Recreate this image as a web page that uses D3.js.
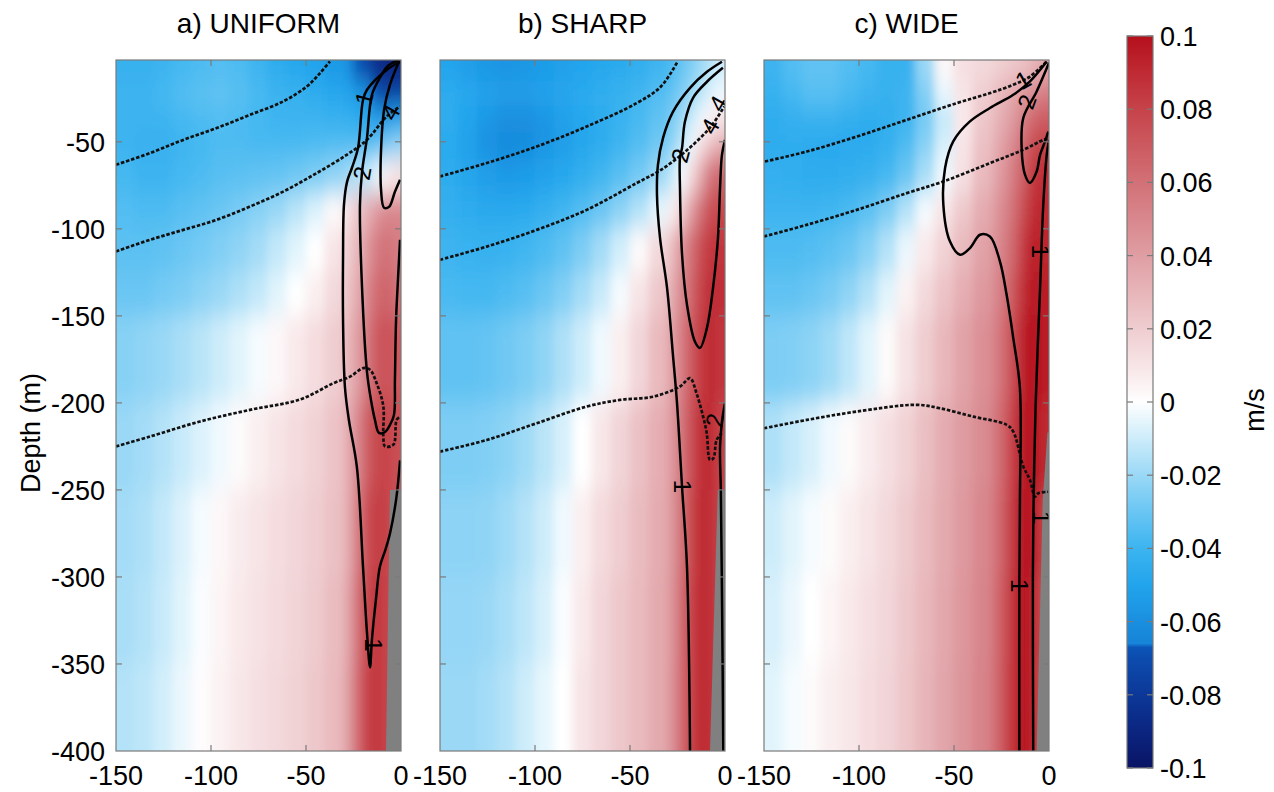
<!DOCTYPE html>
<html><head><meta charset="utf-8">
<script src="https://cdn.jsdelivr.net/npm/d3@7"></script>
<style>
body{margin:0;background:#fff;}
svg{display:block;font-family:"Liberation Sans",Arial,Helvetica,sans-serif;}
</style></head><body>
<svg id="chart" width="1274" height="792"></svg>
<script>
// ---------------- DATA ----------------
const panelTitles = ["a) UNIFORM", "b) SHARP", "c) WIDE"];
const xTicks = [-150, -100, -50, 0];
const xTickLabels = ["-150", "-100", "-50", "0"];
const yTicks = [-50, -100, -150, -200, -250, -300, -350, -400];
const yTickLabels = ["-50", "-100", "-150", "-200", "-250", "-300", "-350", "-400"];
const cbarTicks = [0.1, 0.08, 0.06, 0.04, 0.02, 0, -0.02, -0.04, -0.06, -0.08, -0.1];
const cbarTickLabels = ["0.1", "0.08", "0.06", "0.04", "0.02", "0", "-0.02", "-0.04", "-0.06", "-0.08", "-0.1"];

// grid cell edges (distance offshore, depth)
const xEdges = [-150,-140,-130,-120,-110,-100,-90,-80,-70,-60,-50,-40,-30,-25,-20,-15,-10,-5,0];
const depthEdges = [-3,-15,-30,-45,-60,-80,-100,-125,-150,-200,-250,-300,-350,-400];

// alongshore velocity (m/s), rows shallow->deep, columns offshore->coast
const velocityA = [
[-.042,-.042,-.04,-.038,-.036,-.035,-.036,-.04,-.045,-.048,-.05,-.055,-.06,-.068,-.075,-.085,-.09,-.09],
[-.04,-.04,-.038,-.035,-.033,-.032,-.034,-.037,-.04,-.042,-.045,-.048,-.05,-.055,-.06,-.07,-.075,-.075],
[-.04,-.04,-.04,-.038,-.036,-.035,-.036,-.038,-.04,-.04,-.04,-.042,-.043,-.045,-.048,-.052,-.055,-.05],
[-.04,-.042,-.042,-.04,-.038,-.036,-.036,-.037,-.037,-.037,-.036,-.035,-.035,-.035,-.035,-.033,-.028,-.022],
[-.038,-.04,-.04,-.038,-.036,-.034,-.033,-.032,-.031,-.029,-.026,-.022,-.018,-.015,-.012,-.005,.005,.01],
[-.035,-.036,-.036,-.034,-.032,-.03,-.027,-.024,-.02,-.014,-.007,.002,.012,.022,.032,.042,.05,.05],
[-.033,-.033,-.032,-.03,-.028,-.025,-.022,-.018,-.012,-.006,.0,.01,.02,.03,.042,.055,.06,.055],
[-.03,-.03,-.028,-.026,-.023,-.02,-.016,-.012,-.006,.0,.006,.015,.025,.035,.05,.062,.066,.06],
[-.024,-.022,-.02,-.017,-.014,-.01,-.006,-.002,.003,.008,.013,.02,.03,.04,.056,.07,.074,.07],
[-.02,-.018,-.015,-.011,-.007,-.003,.002,.006,.01,.014,.018,.024,.035,.05,.068,.078,.08,.075],
[-.018,-.016,-.012,-.007,-.002,.003,.007,.01,.013,.016,.02,.025,.035,.055,.075,.082,.08,.075],
[-.017,-.015,-.011,-.006,-.001,.004,.008,.011,.014,.017,.021,.027,.038,.06,.078,.085,.08,.075],
[-.015,-.013,-.009,-.004,.001,.005,.009,.012,.015,.018,.022,.028,.04,.062,.08,.085,.08,.075]
];
const velocityB = [
[-.05,-.053,-.056,-.057,-.056,-.054,-.052,-.05,-.048,-.046,-.044,-.04,-.036,-.031,-.026,-.02,-.015,-.01],
[-.045,-.048,-.051,-.053,-.053,-.051,-.049,-.046,-.044,-.042,-.039,-.035,-.031,-.026,-.02,-.014,-.007,-.003],
[-.045,-.05,-.056,-.06,-.06,-.057,-.052,-.048,-.045,-.041,-.037,-.032,-.026,-.019,-.011,-.003,.004,.01],
[-.046,-.052,-.058,-.062,-.061,-.057,-.053,-.049,-.045,-.04,-.035,-.029,-.022,-.013,-.003,.012,.025,.035],
[-.045,-.049,-.053,-.055,-.054,-.051,-.048,-.044,-.039,-.034,-.028,-.02,-.011,-.002,.015,.035,.058,.065],
[-.043,-.045,-.047,-.047,-.046,-.043,-.039,-.035,-.03,-.023,-.015,-.005,.006,.02,.04,.06,.075,.078],
[-.04,-.041,-.042,-.041,-.039,-.036,-.032,-.026,-.018,-.009,.002,.015,.028,.045,.06,.075,.085,.085],
[-.037,-.038,-.038,-.036,-.034,-.03,-.025,-.018,-.011,-.002,.01,.022,.035,.05,.065,.08,.088,.088],
[-.032,-.032,-.031,-.029,-.026,-.022,-.016,-.01,-.003,.006,.016,.028,.04,.055,.07,.083,.09,.085],
[-.026,-.026,-.025,-.023,-.019,-.014,-.008,.0,.009,.017,.025,.033,.043,.058,.075,.088,.09,.08],
[-.023,-.023,-.022,-.019,-.015,-.01,-.003,.006,.014,.02,.027,.034,.044,.06,.078,.09,.088,.08],
[-.021,-.021,-.02,-.017,-.013,-.008,-.001,.008,.016,.022,.028,.035,.045,.062,.08,.09,.088,.08],
[-.02,-.02,-.018,-.015,-.01,-.005,.0,.01,.016,.022,.028,.035,.046,.063,.08,.09,.088,.08]
];
const velocityC = [
[-.04,-.035,-.032,-.032,-.035,-.038,-.042,-.042,-.02,.003,.012,.015,.018,.02,.022,.025,.03,.035],
[-.042,-.038,-.034,-.034,-.037,-.04,-.042,-.04,-.025,-.005,.01,.02,.027,.032,.038,.045,.05,.055],
[-.045,-.043,-.042,-.042,-.044,-.045,-.044,-.04,-.028,-.012,.008,.022,.03,.036,.044,.055,.065,.07],
[-.045,-.045,-.046,-.047,-.047,-.046,-.043,-.036,-.024,-.008,.01,.025,.034,.042,.052,.065,.078,.08],
[-.043,-.044,-.045,-.045,-.044,-.042,-.038,-.03,-.017,-.003,.012,.028,.038,.046,.058,.07,.085,.088],
[-.04,-.04,-.04,-.039,-.037,-.033,-.026,-.015,-.002,.01,.022,.034,.043,.052,.063,.078,.09,.09],
[-.036,-.036,-.035,-.033,-.03,-.024,-.015,-.004,.008,.018,.028,.038,.047,.056,.068,.085,.095,.092],
[-.032,-.032,-.03,-.027,-.022,-.015,-.006,.005,.015,.024,.033,.042,.05,.06,.075,.09,.098,.095],
[-.026,-.025,-.023,-.019,-.013,-.006,.002,.011,.02,.029,.038,.046,.054,.065,.08,.095,.1,.095],
[-.016,-.012,-.008,-.003,.002,.007,.012,.018,.026,.034,.041,.048,.058,.07,.085,.098,.1,.09],
[-.01,-.006,-.002,.002,.006,.01,.015,.021,.028,.035,.042,.05,.06,.072,.088,.1,.095,.08],
[-.008,-.004,.0,.004,.008,.012,.016,.022,.029,.036,.043,.051,.062,.075,.09,.1,.09,.075],
[-.006,-.002,.002,.006,.009,.013,.017,.023,.03,.037,.044,.052,.063,.076,.09,.1,.09,.07]
];

// isopycnals (dotted): [x, depth]
const isopycnalsA = [
[[-150,-63.2],[-132.1,-56.5],[-114.6,-48.9],[-97,-42.1],[-79.5,-34.5],[-62,-26.8],[-49.6,-18.2],[-42.6,-10.5],[-37.4,-3.8]],
[[-150,-113],[-132.1,-106.3],[-114.6,-100.6],[-97,-94.8],[-79.5,-87.2],[-62,-78.6],[-44.4,-68],[-28.6,-57.5],[-18,-48.9],[-7.5,-35.4],[-0.5,-29.7]],
[[-150,-225],[-132,-219.3],[-105.8,-210.7],[-79.5,-204],[-53,-198],[-35.6,-188.7],[-26.8,-184.9],[-19.8,-180],[-16.3,-181],[-12.8,-188.7],[-9.3,-202],[-9.3,-219.3],[-8.4,-225],[-4,-224],[-2.3,-209.8],[-0.5,-208]]
];
const isopycnalsB = [
[[-150,-69.9],[-125.4,-62.2],[-99.1,-52.7],[-72.8,-41.2],[-46.5,-27.8],[-33.7,-18.2],[-24.9,-3.8]],
[[-150,-117.8],[-125.4,-110.2],[-99.1,-100.6],[-72.8,-89.1],[-46.5,-73.7],[-33.7,-66.1],[-19.8,-54.6],[-7.4,-41.2],[-0.4,-29.7]],
[[-150,-228],[-125.4,-221.3],[-99.1,-211.7],[-72.8,-202.1],[-55.3,-198.3],[-37.7,-196.4],[-23.7,-190.6],[-18.4,-185.8],[-15,-194.4],[-11.5,-207.9],[-9.6,-217.4],[-7.9,-232.8],[-6.1,-231.8],[-4.4,-221.3],[-1.7,-217.4]]
];
const isopycnalsC = [
[[-149.5,-61.3],[-127.5,-55.6],[-101.2,-47],[-74.9,-37.4],[-48.6,-27.8],[-31,-22],[-18.8,-17.2],[-10,-12.5],[-1.2,-3.8]],
[[-150,-104.4],[-127.5,-97.7],[-101.2,-89.1],[-74.9,-79.5],[-55.6,-72.8],[-31,-62.2],[-13.5,-54.6],[-3,-48.9],[0,-47.9]],
[[-150,-214.6],[-127.5,-209.8],[-101.2,-205],[-69.6,-201.1],[-57.4,-203.1],[-39.8,-207.9],[-22.3,-212.6],[-18.8,-216.5],[-13.5,-236.6],[-10,-244.3],[-7.4,-253.8],[-5.6,-251.9],[-0.4,-251]]
];

// solid contours: [x, depth]
const contoursA = [
[[-0.5,-4],[-7.4,-8.6],[-17.9,-20.1],[-20,-26],[-22.6,-53.4],[-25.8,-64.9],[-28.4,-73],[-30,-86],[-30.5,-115],[-30.5,-153],[-29.5,-191],[-27.4,-210],[-23.2,-237],[-20,-294],[-17.9,-332],[-16.3,-352],[-15.3,-336],[-13.2,-313],[-11.1,-294],[-8.4,-285],[-5.8,-275],[-2.5,-255],[-0.5,-233]],
[[-1.1,-2.9],[-6.8,-6.3],[-11.1,-13.2],[-15.3,-23],[-17.9,-47.7],[-20.5,-67.2],[-21.6,-86.2],[-20.5,-133.9],[-17.9,-182.2],[-15.8,-198.3],[-13.7,-209.8],[-11.6,-217.2],[-8.4,-216.7],[-5.8,-212.6],[-3.7,-206.9],[-3.2,-186.8],[-2.6,-152.3],[-1.6,-129.3],[-0.5,-106.3]],
[[-1.1,-4],[-5.8,-17.2],[-8.9,-31.6],[-10.5,-54.6],[-10.5,-77.6],[-8.9,-87.9],[-6.3,-87.4],[-3.2,-78.7],[-0.5,-71.8]]
];
const contoursB = [
[[-1.6,-4],[-9.5,-9.8],[-18.4,-19],[-27.4,-32.8],[-32.6,-47.7],[-35.3,-63.2],[-35.8,-80.5],[-34.2,-105.2],[-30.5,-133.9],[-27.4,-172.4],[-25.3,-199.4],[-22.6,-248.3],[-20,-294.3],[-18.4,-400]],
[[-1.1,-7.5],[-9.5,-15.5],[-16.8,-24.7],[-21.1,-38.5],[-22.6,-53.4],[-23.7,-59.2],[-23.7,-76.4],[-22.6,-114.9],[-20,-143.7],[-15.8,-164.9],[-13.2,-168.4],[-9.5,-156.9],[-6.3,-133.9],[-3.7,-105.2],[-2.6,-76.4],[-1.6,-57.5],[0,-48.9]],
[[-0.9,-400],[-1.5,-320],[-2.2,-250],[-2.6,-225],[-1.5,-210],[0,-200]]
];
const contoursC = [
[[-1.2,-3.9],[-10,-15.3],[-18.8,-23],[-31.1,-30.6],[-41.6,-38.3],[-50.4,-49.8],[-54.7,-65.1],[-55.6,-86.2],[-52.1,-107.3],[-46.8,-114.9],[-41.6,-111.1],[-36.3,-103.4],[-31.1,-104.4],[-25.8,-118.8],[-22.3,-137.9],[-18.8,-162.8],[-15.3,-191.6],[-15.3,-255.7],[-15.6,-304.6],[-15.6,-400]],
[[-8.3,-400],[-8.5,-300],[-8,-250],[-7,-200],[-4.7,-134],[-3,-86],[-1.2,-57.5],[0,-49]],
[[0,-4.6],[-6.5,-21.1],[-13.5,-36.2],[-14.4,-53.4],[-12.6,-69],[-10,-73.6],[-6.5,-67.1],[-4.7,-57.5],[-2.1,-49.8],[-0.4,-44.1]]
];

// contour labels: [text, x, depth, angle]
const labelsA = [["1",-19.5,-25,-75],["2",-20.5,-68,-80],["1",-14.5,-339,90],["4",-5.5,-33,-60]];
const labelsB = [["1",-22.6,-248,90],["2",-23.5,-58,-75],["4",-7.9,-41,-60],["4",-3.7,-28,-60],["2",-5.5,-210,-80]];
const labelsC = [["1",-13.7,-14.5,-30],["2",-11.7,-27,-70],["1",-15.5,-305,90],["1",-4.7,-113,90],["1",-3.8,-266,90]];

// shelf / slope (land) polygons: [x, depth]
const bathyA = [[0,-250],[-5.8,-250],[-7.9,-400],[0,-400]];
const bathyB = [[0,-250],[-3.8,-250],[-7.9,-400],[0,-400]];
const bathyC = [[0,-217],[-0.8,-217],[-3.3,-256],[-6.5,-400],[0,-400]];

// colormap stops
const colorStopValues = [-0.1,-0.09,-0.08,-0.07,-0.067,-0.066,-0.06,-0.05,-0.04,-0.03,-0.02,-0.01,0,0.01,0.02,0.03,0.04,0.05,0.06,0.07,0.08,0.09,0.1];
const colorStopColors = ["#0a1464","#0b2580","#0c3898","#0c4cae","#0c55b8","#1684d8","#1a8fdf","#22a4ec","#3cb4f0","#6ac6f3","#9ad8f6","#cdecfa","#ffffff","#f7e4e6","#efcdd0","#e7b5b9","#df9ea3","#d8878d","#d27177","#cc5a60","#c6434a","#bf2a33","#b5101c"];

// ---------------- DRAW ----------------
const svg = d3.select("#chart");
const defs = svg.append("defs");
const color = d3.scaleLinear().domain(colorStopValues).range(colorStopColors).interpolate(d3.interpolateRgb).clamp(true);

const panelLeft = [116, 440, 764];
const plotW = 285, plotTop = 60, plotBottom = 751;
const ys = d3.scaleLinear().domain([-400, -3]).range([plotBottom, plotTop]);
const fields = [velocityA, velocityB, velocityC];
const isos = [isopycnalsA, isopycnalsB, isopycnalsC];
const conts = [contoursA, contoursB, contoursC];
const labs = [labelsA, labelsB, labelsC];
const bathys = [bathyA, bathyB, bathyC];

const blur = defs.append("filter").attr("id", "smooth")
  .attr("x", "-5%").attr("y", "-5%").attr("width", "110%").attr("height", "110%");
blur.append("feGaussianBlur").attr("stdDeviation", "5 12");

const pad = 45;
panelLeft.forEach((left, p) => {
  const xs = d3.scaleLinear().domain([-150, 0]).range([left, left + plotW]);
  const clipId = "clip" + p;
  defs.append("clipPath").attr("id", clipId).append("rect")
    .attr("x", left).attr("y", plotTop).attr("width", plotW).attr("height", plotBottom - plotTop);

  const g = svg.append("g");
  const clipped = g.append("g").attr("clip-path", `url(#${clipId})`);

  // heat cells
  const cells = [];
  fields[p].forEach((row, i) => row.forEach((v, j) => cells.push({i, j, v})));
  const nR = depthEdges.length - 2, nC = xEdges.length - 2;
  clipped.append("g").attr("filter", "url(#smooth)")
    .selectAll("rect").data(cells).join("rect")
    .attr("x", d => xs(xEdges[d.j]) - (d.j === 0 ? pad : 0) - 0.5)
    .attr("width", d => xs(xEdges[d.j + 1]) - xs(xEdges[d.j]) + (d.j === 0 ? pad : 0) + (d.j === nC ? pad : 0) + 1)
    .attr("y", d => ys(depthEdges[d.i]) - (d.i === 0 ? pad : 0) - 0.5)
    .attr("height", d => ys(depthEdges[d.i + 1]) - ys(depthEdges[d.i]) + (d.i === 0 ? pad : 0) + (d.i === nR ? pad : 0) + 1)
    .attr("fill", d => color(d.v));

  // bathymetry
  clipped.append("path").datum(bathys[p])
    .attr("d", d3.line().x(d => xs(d[0])).y(d => ys(d[1])))
    .attr("fill", "#808080");

  const line = d3.line().x(d => xs(d[0])).y(d => ys(d[1])).curve(d3.curveCatmullRom.alpha(0.5));
  clipped.selectAll("path.iso").data(isos[p]).join("path").attr("class", "iso")
    .attr("d", line).attr("fill", "none").attr("stroke", "#111")
    .attr("stroke-width", 2.7).attr("stroke-dasharray", "3.5,1.8");
  clipped.selectAll("path.cont").data(conts[p]).join("path").attr("class", "cont")
    .attr("d", line).attr("fill", "none").attr("stroke", "#000")
    .attr("stroke-width", 2.5).attr("stroke-linejoin", "round");
  clipped.selectAll("text.lab").data(labs[p]).join("text").attr("class", "lab")
    .attr("transform", d => `translate(${xs(d[1])},${ys(d[2])}) rotate(${d[3]})`)
    .attr("text-anchor", "middle").attr("dominant-baseline", "central")
    .attr("font-size", 24).attr("fill", "#000").text(d => d[0]);

  // frame + ticks
  g.append("rect").attr("x", left).attr("y", plotTop).attr("width", plotW).attr("height", plotBottom - plotTop)
    .attr("fill", "none").attr("stroke", "#7a7a7a").attr("stroke-width", 1.2);
  const tickG = g.append("g").attr("stroke", "#7a7a7a").attr("stroke-width", 1.2);
  xTicks.slice(1, 3).forEach(t => {
    tickG.append("line").attr("x1", xs(t)).attr("x2", xs(t)).attr("y1", plotBottom).attr("y2", plotBottom - 6);
    tickG.append("line").attr("x1", xs(t)).attr("x2", xs(t)).attr("y1", plotTop).attr("y2", plotTop + 6);
  });
  yTicks.slice(0, 7).forEach(t => {
    tickG.append("line").attr("x1", left).attr("x2", left + 6).attr("y1", ys(t)).attr("y2", ys(t));
    tickG.append("line").attr("x1", left + plotW).attr("x2", left + plotW - 6).attr("y1", ys(t)).attr("y2", ys(t));
  });

  // tick labels
  g.selectAll("text.xt").data(xTicks).join("text").attr("class", "xt")
    .attr("x", d => xs(d)).attr("y", 785).attr("text-anchor", "middle")
    .attr("font-size", 27).attr("fill", "#000")
    .text((d, i) => xTickLabels[i]);
  if (p === 0) {
    g.selectAll("text.yt").data(yTicks).join("text").attr("class", "yt")
      .attr("x", left - 11).attr("y", d => ys(d) + 10).attr("text-anchor", "end")
      .attr("font-size", 27).attr("fill", "#000")
      .text((d, i) => yTickLabels[i]);
  }
  g.append("text").attr("x", left + plotW / 2).attr("y", 33).attr("text-anchor", "middle")
    .attr("font-size", 28).attr("fill", "#000").text(panelTitles[p]);
});

svg.append("text").attr("transform", "translate(40,433) rotate(-90)")
  .attr("text-anchor", "middle").attr("font-size", 27).attr("fill", "#000").text("Depth (m)");

// colorbar
const cbX = 1127, cbW = 26;
const cs = d3.scaleLinear().domain([-0.1, 0.1]).range([768, 36]);
const grad = defs.append("linearGradient").attr("id", "cbgrad")
  .attr("x1", 0).attr("y1", 1).attr("x2", 0).attr("y2", 0);
grad.selectAll("stop").data(colorStopValues).join("stop")
  .attr("offset", d => (d + 0.1) / 0.2)
  .attr("stop-color", (d, i) => colorStopColors[i]);
svg.append("rect").attr("x", cbX).attr("y", cs(0.1)).attr("width", cbW).attr("height", cs(-0.1) - cs(0.1))
  .attr("fill", "url(#cbgrad)").attr("stroke", "#7a7a7a").attr("stroke-width", 1.2);
const cbT = svg.append("g").attr("stroke", "#7a7a7a").attr("stroke-width", 1.2);
cbarTicks.forEach(t => {
  cbT.append("line").attr("x1", cbX).attr("x2", cbX + 6).attr("y1", cs(t)).attr("y2", cs(t));
  cbT.append("line").attr("x1", cbX + cbW).attr("x2", cbX + cbW - 6).attr("y1", cs(t)).attr("y2", cs(t));
});
svg.selectAll("text.cb").data(cbarTicks).join("text").attr("class", "cb")
  .attr("x", 1160).attr("y", d => cs(d) + 10).attr("font-size", 27).attr("fill", "#000")
  .text((d, i) => cbarTickLabels[i]);
svg.append("text").attr("transform", "translate(1264,410) rotate(-90)")
  .attr("text-anchor", "middle").attr("font-size", 27).attr("fill", "#000").text("m/s");
</script>
</body></html>
